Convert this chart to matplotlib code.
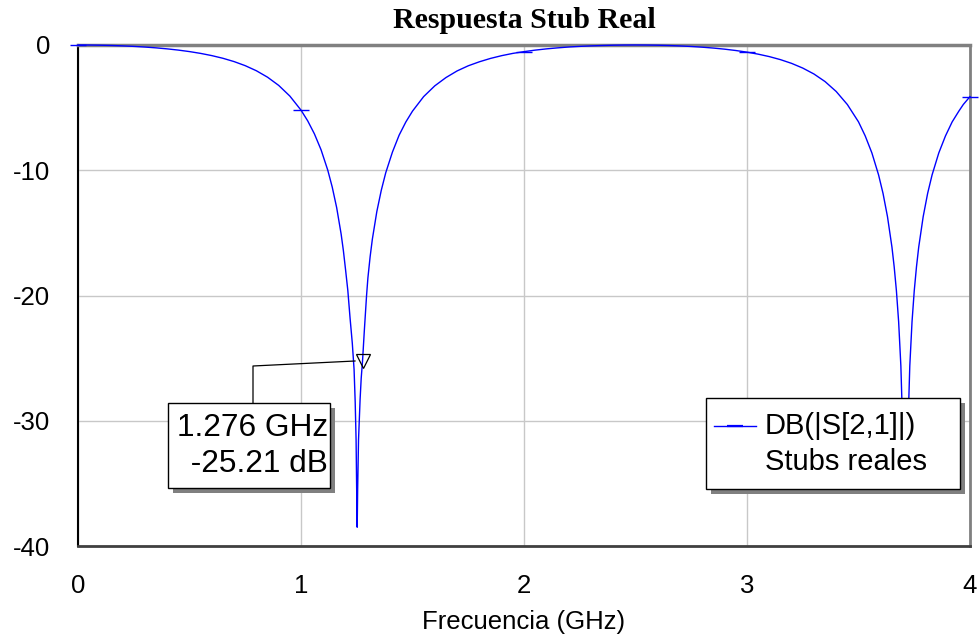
import matplotlib
matplotlib.use("Agg")
import matplotlib.pyplot as plt
from matplotlib.patches import Rectangle
from matplotlib.lines import Line2D

plt.rcParams['axes.unicode_minus'] = False

# Swept response of the real-stub filter: frequency (GHz) and |S21| (dB)
freq_ghz = [
    0.00, 0.05, 0.10, 0.15, 0.20, 0.25, 0.30, 0.35, 0.40, 0.45, 0.50, 0.55,
    0.60, 0.65, 0.70, 0.75, 0.80, 0.85, 0.90, 0.95, 1.00, 1.03, 1.06, 1.09,
    1.12, 1.14, 1.16, 1.18, 1.19, 1.20, 1.21, 1.22, 1.23, 1.238, 1.243, 1.247,
    1.250, 1.252, 1.254, 1.258, 1.265, 1.270, 1.276, 1.284, 1.294, 1.30, 1.31,
    1.32, 1.34, 1.36, 1.38, 1.41, 1.44, 1.47, 1.50, 1.55, 1.60, 1.65, 1.70,
    1.75, 1.80, 1.85, 1.90, 1.95, 2.00, 2.05, 2.10, 2.15, 2.20, 2.25, 2.30,
    2.35, 2.40, 2.45, 2.50, 2.55, 2.60, 2.65, 2.70, 2.75, 2.80, 2.85, 2.90,
    2.95, 3.00, 3.05, 3.10, 3.15, 3.20, 3.25, 3.30, 3.35, 3.40, 3.45, 3.50,
    3.53, 3.56, 3.59, 3.61, 3.63, 3.65, 3.66, 3.67, 3.68, 3.69, 3.70, 3.705,
    3.71, 3.715, 3.72, 3.73, 3.74, 3.75, 3.76, 3.77, 3.79, 3.81, 3.83, 3.86,
    3.89, 3.92, 3.95, 3.97, 4.00,
]
s21_db = [
    0.00, -0.004, -0.017, -0.038, -0.069, -0.110, -0.163, -0.228, -0.309,
    -0.407, -0.526, -0.671, -0.847, -1.061, -1.325, -1.651, -2.057, -2.571,
    -3.226, -4.077, -5.200, -6.054, -7.091, -8.369, -9.991, -11.34, -12.99,
    -15.10, -16.41, -17.97, -19.6, -21.8, -23.8, -25.9, -28.5, -31.5, -36.0,
    -38.5, -35.5, -31.5, -28.3, -26.6, -25.21, -22.8, -20.0, -18.6, -16.9,
    -15.5, -13.3, -11.6, -10.2, -8.55, -7.20, -6.15, -5.28, -4.12, -3.26,
    -2.60, -2.07, -1.66, -1.34, -1.07, -0.85, -0.67, -0.53, -0.41, -0.31,
    -0.23, -0.16, -0.11, -0.07, -0.04, -0.017, -0.004, 0.00, -0.005, -0.018,
    -0.041, -0.074, -0.118, -0.175, -0.246, -0.333, -0.441, -0.571, -0.731,
    -0.926, -1.169, -1.467, -1.842, -2.313, -2.919, -3.712, -4.753, -6.136,
    -7.255, -8.616, -10.37, -11.85, -13.71, -16.14, -17.71, -19.62, -22.10,
    -25.63, -31.65, -34.0, -35.0, -34.0, -31.65, -25.63, -22.10, -19.62,
    -17.71, -16.14, -13.71, -11.85, -10.37, -8.62, -7.26, -6.14, -5.28,
    -4.75, -4.12,
]

# Marker readout
marker_freq = 1.276
marker_db = -25.21

x_ticks = [0, 1, 2, 3, 4]
x_ticklabels = ["0", "1", "2", "3", "4"]
y_ticks = [0, -10, -20, -30, -40]
y_ticklabels = ["0", "-10", "-20", "-30", "-40"]

title = "Respuesta Stub Real"
x_label = "Frecuencia (GHz)"
legend_lines = ["DB(|S[2,1]|)", "Stubs reales"]

W, H = 980, 637
fig = plt.figure(figsize=(W / 100, H / 100), dpi=100)
fig.patch.set_facecolor("white")


def fx(px):
    return px / W


def fy(py):
    return 1 - py / H


L, R, T, B = 78, 970, 45, 546
ax = fig.add_axes([fx(L), fy(B), (R - L) / W, (B - T) / H])
ax.set_xlim(0, 4)
ax.set_ylim(-40, 0)

ax.set_xticks(x_ticks)
ax.set_xticklabels(x_ticklabels)
ax.set_yticks(y_ticks)
ax.set_yticklabels(y_ticklabels)
ax.tick_params(axis="both", length=0, labelsize=18.5, colors="black")
ax.tick_params(axis="x", pad=20.5)
ax.tick_params(axis="y", pad=20)
for lab in ax.get_xticklabels() + ax.get_yticklabels():
    lab.set_fontfamily("Liberation Sans")

ax.grid(True, color="#c8c8c8", linewidth=1.0)
ax.set_axisbelow(True)

ax.spines["left"].set_color("black")
ax.spines["left"].set_linewidth(1.5)
ax.spines["bottom"].set_color("#404040")
ax.spines["bottom"].set_linewidth(2.0)
ax.spines["top"].set_color("#808080")
ax.spines["top"].set_linewidth(2.5)
ax.spines["right"].set_color("#808080")
ax.spines["right"].set_linewidth(2.0)

ax.set_xlabel(x_label, fontsize=18.5, fontfamily="Liberation Sans", labelpad=8)
fig.text(0.5 * (fx(L) + fx(R)), fy(20), title, ha="center", va="center",
         fontsize=21.5, fontweight="bold", fontfamily="Liberation Serif")

# Trace with symbols at every whole GHz
sym_idx = [freq_ghz.index(v) for v in x_ticks]
ax.plot(freq_ghz, s21_db, color="#0000ff", linewidth=1.0, marker="_",
        markersize=11.5, markeredgewidth=1.0, markevery=sym_idx,
        clip_on=False, zorder=3)

# Marker triangle and leader line to its readout box
ax.plot([marker_freq], [marker_db], marker="v", markersize=10,
        markerfacecolor="none", markeredgecolor="black",
        markeredgewidth=0.9, zorder=4, clip_on=False)

inv = fig.transFigure
lead = Line2D([fx(355), fx(253), fx(253)], [fy(361), fy(366), fy(403)],
              transform=inv, color="black", linewidth=0.9, zorder=5)
fig.add_artist(lead)


def shadow_box(x0, y0, x1, y1, z):
    sh = Rectangle((fx(x0 + 5), fy(y1 + 5)), (x1 - x0) / W, (y1 - y0) / H,
                   transform=inv, facecolor="#808080", edgecolor="none",
                   zorder=z)
    bx = Rectangle((fx(x0), fy(y1)), (x1 - x0) / W, (y1 - y0) / H,
                   transform=inv, facecolor="white", edgecolor="black",
                   linewidth=1.0, zorder=z + 0.1)
    fig.add_artist(sh)
    fig.add_artist(bx)


# Readout box
shadow_box(168, 403, 330, 488, 6)
fig.text(fx(328), fy(428), f"{marker_freq:.3f} GHz", ha="right",
         va="center", fontsize=22.8, fontfamily="Liberation Sans", zorder=7)
fig.text(fx(328), fy(464), f" {marker_db:.2f} dB", ha="right",
         va="center", fontsize=22.8, fontfamily="Liberation Sans", zorder=7)

# Legend box
shadow_box(706, 398, 960, 489, 6)
leg_line = Line2D([fx(714), fx(756)], [fy(426), fy(426)], transform=inv,
                  color="#0000ff", linewidth=1.0, zorder=7)
leg_sym = Line2D([fx(735)], [fy(426)], transform=inv, color="#0000ff",
                 marker="_", markersize=11.5, markeredgewidth=1.6, zorder=7)
fig.add_artist(leg_line)
fig.add_artist(leg_sym)
fig.text(fx(765), fy(426), legend_lines[0], ha="left", va="center",
         fontsize=21, fontfamily="Liberation Sans", zorder=7)
fig.text(fx(765), fy(462), legend_lines[1], ha="left", va="center",
         fontsize=21, fontfamily="Liberation Sans", zorder=7)

fig.savefig("out.png", dpi=100)
